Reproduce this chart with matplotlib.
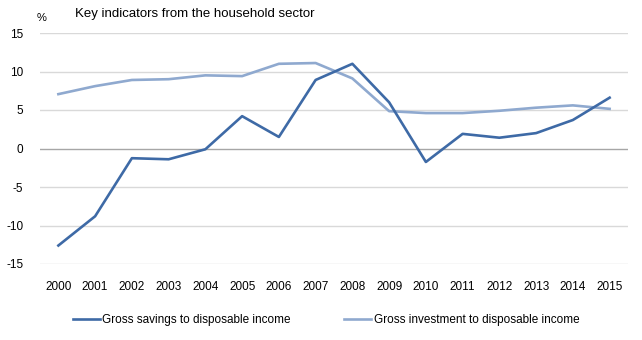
import matplotlib
matplotlib.use("Agg")
import matplotlib.pyplot as plt
from matplotlib.lines import Line2D

years = ["2000", "2001", "2002", "2003", "2004", "2005", "2006", "2007",
         "2008", "2009", "2010", "2011", "2012", "2013", "2014", "2015"]
savings = [-12.6, -8.8, -1.26, -1.4, -0.1, 4.2, 1.5, 8.9,
           11.0, 6.0, -1.75, 1.9, 1.4, 2.0, 3.7, 6.6]
investment = [7.06, 8.1, 8.9, 9.0, 9.5, 9.4, 11.0, 11.1,
              9.1, 4.85, 4.6, 4.6, 4.9, 5.3, 5.6, 5.15]
yticks = [-15, -10, -5, 0, 5, 10, 15]
series_names = ["Gross savings to disposable income",
                "Gross investment to disposable income"]

plt.rcParams['font.family'] = ['Liberation Sans', 'DejaVu Sans']
W, H = 642, 340
fig = plt.figure(figsize=(W / 100, H / 100), dpi=100)
ax = fig.add_axes([40 / W, 1 - 264 / H, 588 / W, 231 / H])

dark = "#3e6aa6"
light = "#8fa9cf"
x = list(range(len(years)))
ax.plot(x, savings, color=dark, lw=1.9, solid_joinstyle='round', zorder=3)
ax.plot(x, investment, color=light, lw=1.9, solid_joinstyle='round', zorder=2)

ax.set_xlim(-0.5, len(years) - 0.5)
ax.set_ylim(-15, 15)
ax.set_yticks(yticks)
ax.set_yticklabels([str(v) for v in yticks])
ax.set_xticks(x)
ax.set_xticklabels(years)
ax.tick_params(length=0, labelsize=8.5, colors="#000000")
ax.tick_params(axis='y', pad=12)
ax.tick_params(axis='x', pad=12)
for s in ax.spines.values():
    s.set_visible(False)
for v in yticks:
    ax.axhline(v, color="#a6a6a6" if v == 0 else "#d9d9d9", lw=1.0, zorder=1)

fig.text(75 / W, 1 - 14 / H, "Key indicators from the household sector",
         fontsize=9.5, ha='left', va='center')
fig.text(42 / W, 1 - 18 / H, "%", fontsize=8, ha='center', va='center')

handles = [Line2D([0], [0], color=dark, lw=1.9),
           Line2D([0], [0], color=light, lw=1.9)]
fig.legend(handles, series_names, loc='center', bbox_to_anchor=(326 / W, 1 - 320 / H),
           ncol=2, frameon=False, fontsize=8.5, handlelength=2.3,
           handletextpad=0.2, columnspacing=4.5)

fig.savefig("out.png", dpi=100)
